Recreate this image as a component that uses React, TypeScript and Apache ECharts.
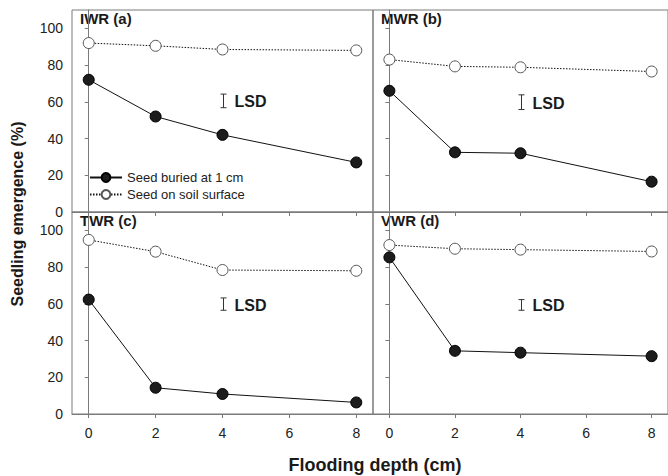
import React, { useEffect, useRef } from "react";
import * as echarts from "echarts";

const depths = [0, 2, 4, 8];
const xTicks = [0, 2, 4, 6, 8];
const yTicks = [0, 20, 40, 60, 80, 100];
const panelTitles = ["IWR (a)", "MWR (b)", "TWR (c)", "VWR (d)"];
const buriedIWR = [72, 52, 42, 27];
const surfaceIWR = [92, 90.5, 88.5, 88];
const buriedMWR = [66, 32.5, 32, 16.5];
const surfaceMWR = [83, 79.3, 78.8, 76.5];
const buriedTWR = [62.3, 14.3, 10.9, 6.3];
const surfaceTWR = [94.8, 88.4, 78.4, 78];
const buriedVWR = [85.3, 34.4, 33.4, 31.5];
const surfaceVWR = [92, 90, 89.5, 88.5];
const lsdLow = [56.8, 55.8, 56.5, 56.5];
const lsdHigh = [64.2, 63.8, 63.2, 62.3];
const lsdX = 4;
const buriedName = "Seed buried at 1 cm";
const surfaceName = "Seed on soil surface";

const FONT = "'Liberation Sans', Arial, Helvetica, sans-serif";

export default function App() {
  const ref = useRef<HTMLDivElement>(null);
  useEffect(() => {
    document.body.style.margin = "0";
    const chart = echarts.init(ref.current!, null, { renderer: "svg" });
    const buried = [buriedIWR, buriedMWR, buriedTWR, buriedVWR];
    const surface = [surfaceIWR, surfaceMWR, surfaceTWR, surfaceVWR];
    const grids = [
      { left: 72, top: 10, width: 301, height: 202 },
      { left: 373, top: 10, width: 301, height: 202 },
      { left: 72, top: 212, width: 301, height: 202 },
      { left: 373, top: 212, width: 301, height: 202 },
    ].map((g) => ({ ...g, show: true, borderColor: "#7a7a7a", borderWidth: 1, backgroundColor: "transparent" }));
    const axisLineColor = "#7a7a7a";
    const xAxis = [0, 1, 2, 3].map((i) => ({
      type: "value",
      gridIndex: i,
      min: -0.5,
      max: 8.5,
      axisLine: { show: true, onZero: false, lineStyle: { color: axisLineColor } },
      axisTick: { show: true, length: 4, customValues: xTicks, lineStyle: { color: axisLineColor } },
      axisLabel: {
        show: i >= 2,
        customValues: xTicks,
        margin: 12,
        fontSize: 14,
        color: "#222",
        fontFamily: FONT,
      },
      splitLine: { show: false },
    }));
    const yAxis = [0, 1, 2, 3].map((i) => ({
      type: "value",
      gridIndex: i,
      min: 0,
      max: 110,
      axisLine: { show: true, lineStyle: { color: axisLineColor } },
      axisTick: { show: true, length: 4, customValues: yTicks, lineStyle: { color: axisLineColor } },
      axisLabel: {
        show: i % 2 === 0,
        customValues: yTicks,
        margin: 9,
        fontSize: 14,
        color: "#222",
        fontFamily: FONT,
      },
      splitLine: { show: false },
    }));
    const series: any[] = [];
    for (let i = 0; i < 4; i++) {
      series.push({
        type: "line",
        name: surfaceName,
        xAxisIndex: i,
        yAxisIndex: i,
        data: depths.map((d, k) => [d, surface[i][k]]),
        symbol: "circle",
        symbolSize: 11,
        showSymbol: true,
        lineStyle: { color: "#111", width: 1, type: [1.5, 1.5] },
        itemStyle: { color: "#fff", borderColor: "#555", borderWidth: 1 },
        z: 3,
      });
      series.push({
        type: "line",
        name: buriedName,
        xAxisIndex: i,
        yAxisIndex: i,
        data: depths.map((d, k) => [d, buried[i][k]]),
        symbol: "circle",
        symbolSize: 11,
        showSymbol: true,
        lineStyle: { color: "#111", width: 1 },
        itemStyle: { color: "#1c1c1c", borderColor: "#000", borderWidth: 1 },
        z: 4,
      });
      series.push({
        type: "custom",
        xAxisIndex: i,
        yAxisIndex: i,
        data: [[lsdX, lsdLow[i], lsdHigh[i]]],
        renderItem: (params: any, api: any) => {
          const lo = api.coord([api.value(0), api.value(1)]);
          const hi = api.coord([api.value(0), api.value(2)]);
          const x = Math.round(lo[0]) + 0.5;
          const cw = 3;
          const st = { stroke: "#333", lineWidth: 1 };
          return {
            type: "group",
            children: [
              { type: "line", shape: { x1: x, y1: lo[1], x2: x, y2: hi[1] }, style: st },
              { type: "line", shape: { x1: x - cw, y1: lo[1], x2: x + cw, y2: lo[1] }, style: st },
              { type: "line", shape: { x1: x - cw, y1: hi[1], x2: x + cw, y2: hi[1] }, style: st },
              {
                type: "text",
                x: x + 11,
                y: (lo[1] + hi[1]) / 2 + 1,
                style: {
                  text: "LSD",
                  fill: "#1a1a1a",
                  font: `bold 16px ${FONT}`,
                  textVerticalAlign: "middle",
                  verticalAlign: "middle",
                },
              },
            ],
          };
        },
        z: 2,
      });
    }
    const titlePos = [
      [80, 11],
      [381, 11],
      [80, 213],
      [381, 213],
    ];
    const graphic: any[] = panelTitles.map((t, i) => ({
      type: "text",
      left: titlePos[i][0],
      top: titlePos[i][1],
      style: { text: t, fill: "#1a1a1a", font: `bold 15px ${FONT}` },
    }));
    graphic.push({
      type: "text",
      x: 17,
      y: 214,
      rotation: Math.PI / 2,
      style: {
        text: "Seedling emergence (%)",
        fill: "#1a1a1a",
        font: `bold 16px ${FONT}`,
        align: "center",
        verticalAlign: "middle",
      },
    });
    graphic.push({
      type: "text",
      x: 375,
      y: 465,
      style: {
        text: "Flooding depth (cm)",
        fill: "#1a1a1a",
        font: `bold 18px ${FONT}`,
        align: "center",
        verticalAlign: "middle",
      },
    });
    chart.setOption({
      animation: false,
      backgroundColor: "#fff",
      grid: grids,
      xAxis,
      yAxis,
      legend: {
        data: [buriedName, surfaceName],
        orient: "vertical",
        left: 84,
        top: 166,
        itemWidth: 32,
        itemHeight: 11,
        itemGap: 4,
        textStyle: { fontSize: 13, color: "#222", fontFamily: FONT },
        selectedMode: false,
      },
      graphic,
      series,
    });
    return () => chart.dispose();
  }, []);
  return <div ref={ref} style={{ width: 668, height: 476 }} />;
}
